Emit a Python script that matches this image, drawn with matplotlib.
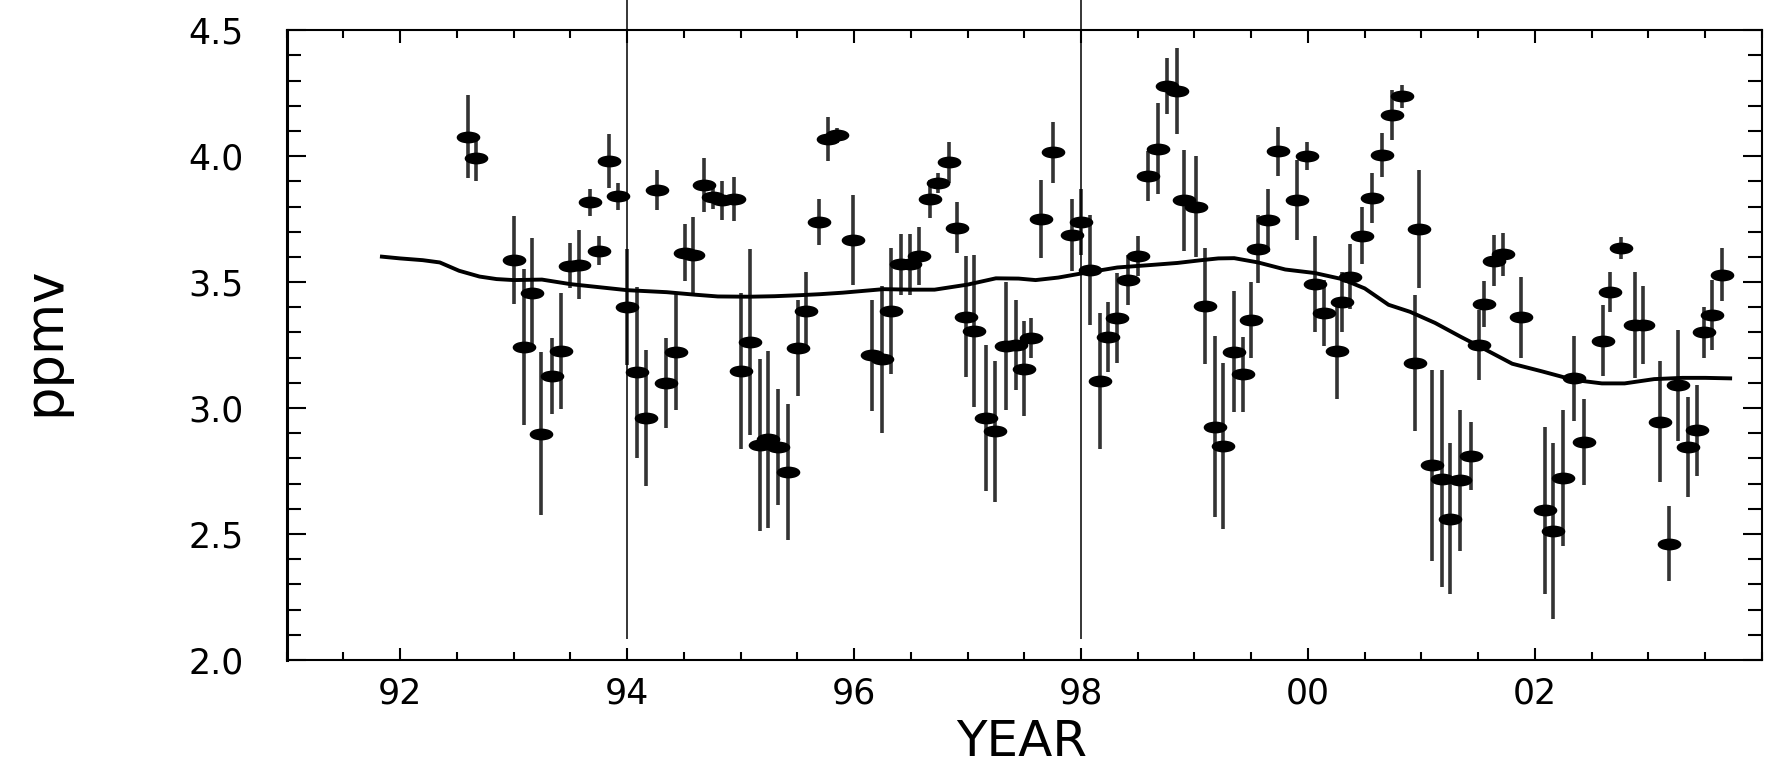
import numpy as np
import matplotlib
matplotlib.use("Agg")
import matplotlib.pyplot as plt
from matplotlib.path import Path
from matplotlib.transforms import Affine2D
from matplotlib.ticker import MultipleLocator, FixedLocator, FixedFormatter

# data (year as 91..104, 100 = 2000)
years = [92.60, 92.67, 93.00, 93.09, 93.16, 93.24, 93.34, 93.42, 93.50, 93.58,
         93.67, 93.75, 93.84, 93.92, 94.00, 94.09, 94.17, 94.26, 94.34, 94.43,
         94.51, 94.58, 94.68, 94.76, 94.84, 94.94, 95.00, 95.08, 95.17, 95.24,
         95.33, 95.42, 95.51, 95.58, 95.69, 95.77, 95.85, 95.99, 96.16, 96.25,
         96.33, 96.41, 96.49, 96.57, 96.67, 96.74, 96.84, 96.91, 96.99, 97.06,
         97.16, 97.24, 97.34, 97.43, 97.50, 97.56, 97.65, 97.75, 97.92, 98.00,
         98.08, 98.17, 98.24, 98.32, 98.41, 98.50, 98.59, 98.68, 98.76, 98.85,
         98.91, 99.01, 99.09, 99.18, 99.25, 99.35, 99.43, 99.50, 99.56, 99.65,
         99.74, 99.90, 99.99, 100.06, 100.14, 100.26, 100.30, 100.37, 100.48, 100.56,
         100.65, 100.74, 100.83, 100.94, 100.98, 101.09, 101.18, 101.25, 101.34, 101.44,
         101.51, 101.55, 101.64, 101.72, 101.88, 102.09, 102.16, 102.25, 102.34, 102.43,
         102.60, 102.66, 102.76, 102.88, 102.95, 103.10, 103.18, 103.26, 103.35, 103.43,
         103.49, 103.56, 103.65]
ppmv = [4.077, 3.993, 3.587, 3.243, 3.458, 2.899, 3.127, 3.227, 3.565, 3.568,
        3.816, 3.624, 3.980, 3.841, 3.400, 3.142, 2.959, 3.865, 3.100, 3.221,
        3.616, 3.607, 3.885, 3.839, 3.825, 3.831, 3.147, 3.263, 2.853, 2.876,
        2.844, 2.747, 3.237, 3.385, 3.739, 4.067, 4.083, 3.667, 3.210, 3.193,
        3.385, 3.570, 3.570, 3.603, 3.829, 3.892, 3.975, 3.716, 3.362, 3.306,
        2.960, 2.908, 3.246, 3.250, 3.157, 3.277, 3.750, 4.015, 3.687, 3.739,
        3.548, 3.108, 3.283, 3.358, 3.508, 3.603, 3.922, 4.030, 4.278, 4.258,
        3.825, 3.799, 3.405, 2.926, 2.849, 3.223, 3.134, 3.350, 3.630, 3.745,
        4.019, 3.827, 4.000, 3.492, 3.377, 3.228, 3.421, 3.522, 3.684, 3.833,
        4.005, 4.164, 4.237, 3.180, 3.710, 2.773, 2.720, 2.561, 2.714, 2.809,
        3.250, 3.413, 3.585, 3.611, 3.360, 2.594, 2.512, 2.723, 3.118, 2.866,
        3.268, 3.460, 3.635, 3.330, 3.330, 2.946, 2.462, 3.091, 2.846, 2.912,
        3.300, 3.370, 3.530]
err = [0.165, 0.093, 0.175, 0.310, 0.216, 0.324, 0.150, 0.230, 0.090, 0.137,
       0.053, 0.058, 0.106, 0.053, 0.230, 0.340, 0.270, 0.080, 0.180, 0.230,
       0.113, 0.150, 0.107, 0.050, 0.077, 0.088, 0.310, 0.370, 0.340, 0.350,
       0.230, 0.270, 0.190, 0.156, 0.090, 0.088, 0.030, 0.180, 0.220, 0.290,
       0.250, 0.120, 0.120, 0.115, 0.076, 0.040, 0.080, 0.100, 0.240, 0.300,
       0.290, 0.280, 0.255, 0.180, 0.190, 0.080, 0.155, 0.120, 0.144, 0.130,
       0.220, 0.270, 0.140, 0.180, 0.100, 0.080, 0.100, 0.180, 0.110, 0.170,
       0.200, 0.200, 0.230, 0.360, 0.330, 0.240, 0.150, 0.150, 0.135, 0.125,
       0.097, 0.159, 0.056, 0.190, 0.130, 0.190, 0.120, 0.130, 0.113, 0.100,
       0.086, 0.100, 0.045, 0.270, 0.233, 0.380, 0.430, 0.300, 0.280, 0.135,
       0.140, 0.090, 0.100, 0.085, 0.160, 0.330, 0.350, 0.270, 0.170, 0.170,
       0.140, 0.080, 0.043, 0.210, 0.155, 0.240, 0.150, 0.220, 0.200, 0.180,
       0.100, 0.140, 0.105]

# smoothed curve
curve_year = [91.84, 92.00, 92.20, 92.35, 92.52, 92.70, 92.85, 93.00, 93.25, 93.50,
              93.75, 94.00, 94.35, 94.60, 94.80, 95.08, 95.30, 95.52, 95.70, 95.90,
              96.26, 96.50, 96.71, 97.00, 97.25, 97.45, 97.60, 97.80, 98.00, 98.32,
              98.62, 98.85, 99.06, 99.21, 99.35, 99.56, 99.80, 100.06, 100.30, 100.50,
              100.71, 100.90, 101.12, 101.35, 101.51, 101.80, 102.06, 102.34, 102.59, 102.79,
              103.05, 103.30, 103.50, 103.72]
curve_val = [3.601, 3.594, 3.587, 3.578, 3.545, 3.522, 3.512, 3.508, 3.510, 3.492,
             3.480, 3.468, 3.460, 3.450, 3.443, 3.442, 3.444, 3.448, 3.452, 3.458,
             3.472, 3.470, 3.470, 3.490, 3.515, 3.514, 3.508, 3.518, 3.534, 3.558,
             3.568, 3.576, 3.587, 3.594, 3.595, 3.578, 3.550, 3.536, 3.512, 3.475,
             3.410, 3.382, 3.338, 3.282, 3.245, 3.176, 3.146, 3.112, 3.098, 3.098,
             3.115, 3.120, 3.120, 3.118]

divider_years = [94.0, 98.0]
divider_lo, divider_hi = 2.085, 4.62

xtick_pos = [92, 94, 96, 98, 100, 102]
xtick_lab = ["92", "94", "96", "98", "00", "02"]
ytick_pos = [2.0, 2.5, 3.0, 3.5, 4.0, 4.5]
ytick_lab = ["2.0", "2.5", "3.0", "3.5", "4.0", "4.5"]

fig = plt.figure(figsize=(17.69, 7.64), dpi=100)
ax = fig.add_axes([0.162, 0.136, 0.834, 0.8246])

# wide oval marker
circ = Path.unit_circle()
oval = Path(Affine2D().scale(1.0, 0.47).transform(circ.vertices), circ.codes)

ax.errorbar(years, ppmv, yerr=err, fmt="none", ecolor="#333333",
            elinewidth=2.6, capsize=0, zorder=2)
ax.plot(years, ppmv, linestyle="none", marker=oval, markersize=16,
        color="k", zorder=3)
ax.plot(curve_year, curve_val, color="k", lw=2.8, zorder=4,
        solid_joinstyle="round")

ax.vlines(divider_years, divider_lo, divider_hi, colors="k", lw=1.1,
          clip_on=False, zorder=5)

ax.set_xlim(91, 104)
ax.set_ylim(2.0, 4.5)

ax.xaxis.set_major_locator(FixedLocator(xtick_pos))
ax.xaxis.set_major_formatter(FixedFormatter(xtick_lab))
ax.xaxis.set_minor_locator(MultipleLocator(0.5))
ax.yaxis.set_major_locator(FixedLocator(ytick_pos))
ax.yaxis.set_major_formatter(FixedFormatter(ytick_lab))
ax.yaxis.set_minor_locator(MultipleLocator(0.1))

ax.tick_params(axis="x", which="both", direction="in", top=True, bottom=True,
               width=1.5, labelsize=25, pad=12)
ax.tick_params(axis="x", which="major", length=9)
ax.tick_params(axis="x", which="minor", length=6)
ax.tick_params(axis="y", which="both", direction="in", left=True, right=True,
               width=1.5, labelsize=25, pad=31)
ax.tick_params(axis="y", which="major", length=14)
ax.tick_params(axis="y", which="minor", length=10)

for side in ["top", "bottom", "right"]:
    ax.spines[side].set_linewidth(1.5)
ax.spines["left"].set_linewidth(2.2)

fig.text(1022 / 1769, 1 - 742 / 764, "YEAR", ha="center", va="center",
         fontsize=36)
fig.text(44 / 1769, 1 - 341 / 764, "ppmv", ha="center", va="center",
         rotation=90, fontsize=38)

fig.savefig("out.png", dpi=100)
